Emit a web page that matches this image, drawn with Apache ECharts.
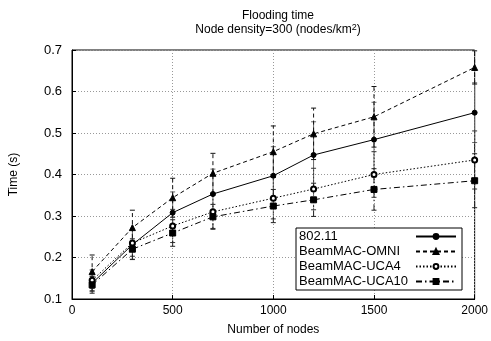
<!DOCTYPE html>
<html>
<head>
<meta charset="utf-8">
<script src="https://cdn.jsdelivr.net/npm/echarts@6/dist/echarts.min.js"></script>
<style>
  html, body { margin: 0; padding: 0; background: #fff; }
  #chart { width: 491px; height: 341px; }
</style>
</head>
<body>
<div id="chart"></div>
<script>
'use strict';

var nodes = [100, 300, 500, 700, 1000, 1200, 1500, 2000];
var yTicks = [0.1, 0.2, 0.3, 0.4, 0.5, 0.6, 0.7];

var t80211 = [0.138, 0.231, 0.308, 0.353, 0.397, 0.447, 0.484, 0.549];
var tOmni  = [0.166, 0.272, 0.344, 0.403, 0.455, 0.498, 0.539, 0.658];
var tUca4  = [0.145, 0.235, 0.276, 0.310, 0.343, 0.365, 0.400, 0.435];
var tUca10 = [0.134, 0.220, 0.259, 0.298, 0.324, 0.339, 0.364, 0.385];

var e80211 = [0.020, 0.035, 0.050, 0.060, 0.070, 0.080, 0.090, 0.072];
var eOmni  = [0.040, 0.042, 0.047, 0.048, 0.062, 0.062, 0.073, 0.040];
var eUca4  = [0.025, 0.032, 0.040, 0.040, 0.050, 0.050, 0.055, 0.070];
var eUca10 = [0.020, 0.025, 0.032, 0.030, 0.040, 0.040, 0.050, 0.065];

var FONT = 'Liberation Sans';

var seriesDefs = [
  { name: '802.11', data: t80211, err: e80211, symbol: 'circle', size: 5, dash: 'solid', errColor: '#666' },
  { name: 'BeamMAC-OMNI', data: tOmni, err: eOmni, symbol: 'triangle', size: 6, dash: [4, 3], errColor: '#111' },
  { name: 'BeamMAC-UCA4', data: tUca4, err: eUca4, symbol: 'emptyCircle', size: 5, dash: [1.5, 2], errColor: '#333' },
  { name: 'BeamMAC-UCA10', data: tUca10, err: eUca10, symbol: 'rect', size: 6, dash: [6, 3, 1.5, 3], errColor: '#222' }
];

function errorSeries(def) {
  return {
    type: 'custom',
    name: def.name + ' err',
    silent: true,
    z: 1,
    data: nodes.map(function (x, i) {
      return [x, def.data[i] - def.err[i], def.data[i] + def.err[i]];
    }),
    renderItem: function (params, api) {
      var lo = api.coord([api.value(0), api.value(1)]);
      var hi = api.coord([api.value(0), api.value(2)]);
      var style = { stroke: def.errColor, lineWidth: 1, lineDash: def.dash === 'solid' ? null : def.dash };
      return {
        type: 'group',
        children: [
          { type: 'line', shape: { x1: lo[0], y1: lo[1], x2: hi[0], y2: hi[1] }, style: style },
          { type: 'line', shape: { x1: lo[0] - 2.5, y1: lo[1], x2: lo[0] + 2.5, y2: lo[1] }, style: { stroke: def.errColor, lineWidth: 1 } },
          { type: 'line', shape: { x1: hi[0] - 2.5, y1: hi[1], x2: hi[0] + 2.5, y2: hi[1] }, style: { stroke: def.errColor, lineWidth: 1 } }
        ]
      };
    }
  };
}

var series = [];
seriesDefs.forEach(function (def) {
  series.push(errorSeries(def));
});
seriesDefs.forEach(function (def) {
  series.push({
    type: 'line',
    name: def.name,
    z: 3,
    data: nodes.map(function (x, i) { return [x, def.data[i]]; }),
    symbol: def.symbol,
    symbolSize: def.size,
    showAllSymbol: true,
    lineStyle: { color: '#000', width: 1, type: def.dash },
    itemStyle: { color: '#000', borderColor: '#000', borderWidth: 1 }
  });
});

var chart = echarts.init(document.getElementById('chart'), null, { renderer: 'canvas' });

chart.setOption({
  animation: false,
  backgroundColor: '#fff',
  textStyle: { fontFamily: FONT },
  title: {
    text: 'Flooding time\nNode density=300 (nodes/km{sup|2})',
    left: 273,
    top: 4,
    textAlign: 'center',
    textStyle: {
      fontFamily: FONT,
      fontSize: 12,
      fontWeight: 'normal',
      color: '#000',
      lineHeight: 14,
      rich: {
        sup: { fontSize: 9, verticalAlign: 'top', lineHeight: 8, padding: [0, 0, 6, 0], color: '#000' }
      }
    }
  },
  grid: { left: 72, right: 16, top: 50, bottom: 40, show: true, borderColor: '#000', borderWidth: 1 },
  legend: {
    orient: 'vertical',
    left: 296,
    top: 228,
    align: 'right',
    itemWidth: 40,
    itemHeight: 6,
    itemGap: 2,
    padding: [2, 5, 2, 3],
    borderColor: '#000',
    borderWidth: 1,
    backgroundColor: '#fff',
    data: seriesDefs.map(function (d) { return d.name; }),
    formatter: function (name) { return '{n|' + name + '}'; },
    textStyle: {
      fontFamily: FONT, fontSize: 13, color: '#000',
      rich: { n: { width: 112, align: 'left', fontSize: 13, fontFamily: FONT, lineHeight: 15 } }
    }
  },
  xAxis: {
    type: 'value',
    min: 0,
    max: 2000,
    interval: 500,
    name: 'Number of nodes',
    nameLocation: 'middle',
    nameGap: 25,
    nameTextStyle: { fontFamily: FONT, fontSize: 12, color: '#000' },
    axisLine: { lineStyle: { color: '#000' } },
    axisTick: { inside: true, length: 4, lineStyle: { color: '#000' } },
    axisLabel: {
      fontFamily: FONT, fontSize: 12, color: '#000', margin: 6,
      formatter: function (v) { return String(v); }
    },
    splitLine: { show: true, lineStyle: { color: '#999', type: [1, 2] } }
  },
  yAxis: {
    type: 'value',
    min: 0.1,
    max: 0.7,
    interval: 0.1,
    name: 'Time (s)',
    nameLocation: 'middle',
    nameGap: 52,
    nameTextStyle: { fontFamily: FONT, fontSize: 12, color: '#000' },
    axisLine: { lineStyle: { color: '#000' } },
    axisTick: { inside: true, length: 4, lineStyle: { color: '#000' } },
    axisLabel: {
      fontFamily: FONT, fontSize: 13, color: '#000', margin: 10,
      formatter: function (v) { return v.toFixed(1); }
    },
    splitLine: { show: true, lineStyle: { color: '#999', type: [1, 2] } }
  },
  series: series
});
</script>
</body>
</html>
